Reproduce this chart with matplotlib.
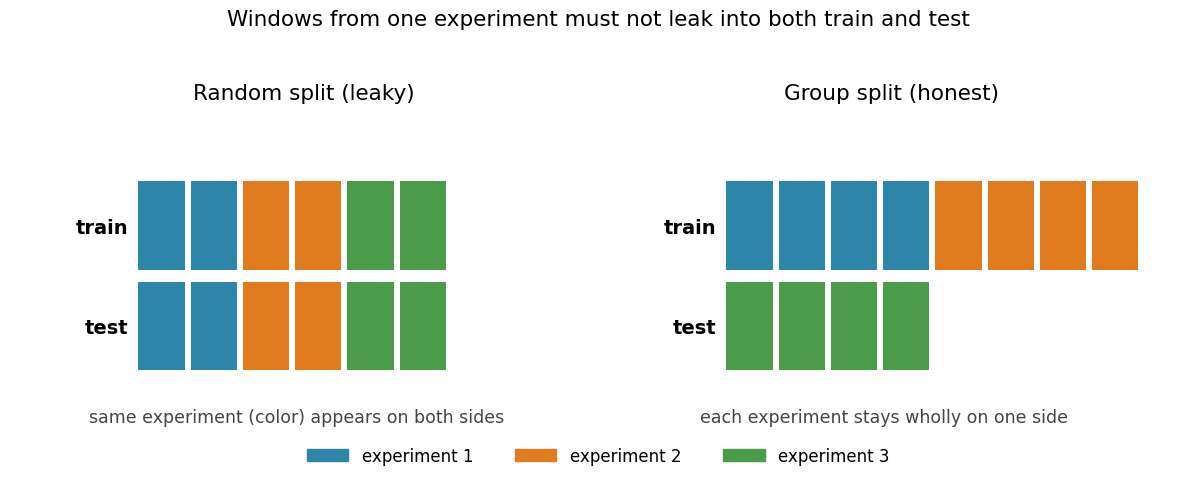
import matplotlib
matplotlib.use("Agg")
import matplotlib.pyplot as plt
from matplotlib.patches import Patch

W, H = 1196, 481
colors = {1: "#2E86AB", 2: "#E07B20", 3: "#4A9C4B"}
experiments = ["experiment 1", "experiment 2", "experiment 3"]
rows = ["train", "test"]
random_train = [1, 1, 2, 2, 3, 3]
random_test = [1, 1, 2, 2, 3, 3]
group_train = [1, 1, 1, 1, 2, 2, 2, 2]
group_test = [3, 3, 3, 3]

fig = plt.figure(figsize=(W / 100, H / 100), dpi=100)

def panel(left_px, train, test):
    ax = fig.add_axes([left_px / W, 1 - 377.25 / H, 418 / W, 201 / H])
    for y, seq in ((1, train), (0, test)):
        xs = list(range(len(seq)))
        ax.bar([x + 0.5 for x in xs], [0.88] * len(seq), bottom=y + 0.06,
               width=0.885, color=[colors[c] for c in seq])
    ax.set_xlim(0, 8)
    ax.set_ylim(0, 2)
    ax.set_yticks([1.5, 0.5])
    ax.set_yticklabels(rows, fontsize=14, fontweight="bold")
    ax.tick_params(length=0, pad=5)
    ax.set_xticks([])
    for s in ax.spines.values():
        s.set_visible(False)
    return ax

panel(135.4, random_train, random_test)
panel(723.4, group_train, group_test)

fig.text(598 / W, 1 - 20 / H, "Windows from one experiment must not leak into both train and test",
         ha="center", va="center", fontsize=15.5)
fig.text(304 / W, 1 - 94 / H, "Random split (leaky)", ha="center", va="center", fontsize=15.5)
fig.text(892 / W, 1 - 94 / H, "Group split (honest)", ha="center", va="center", fontsize=15.5)
fig.text(297 / W, 1 - 418 / H, "same experiment (color) appears on both sides",
         ha="center", va="center", fontsize=12.5, color="#444444")
fig.text(884 / W, 1 - 418 / H, "each experiment stays wholly on one side",
         ha="center", va="center", fontsize=12.5, color="#444444")

handles = [Patch(color=colors[i + 1], label=experiments[i]) for i in range(3)]
fig.legend(handles=handles, loc="center", bbox_to_anchor=(598 / W, 1 - 457 / H),
           ncol=3, frameon=False, fontsize=12, handlelength=2.5, columnspacing=2.5)

fig.savefig("out.png", dpi=100)
